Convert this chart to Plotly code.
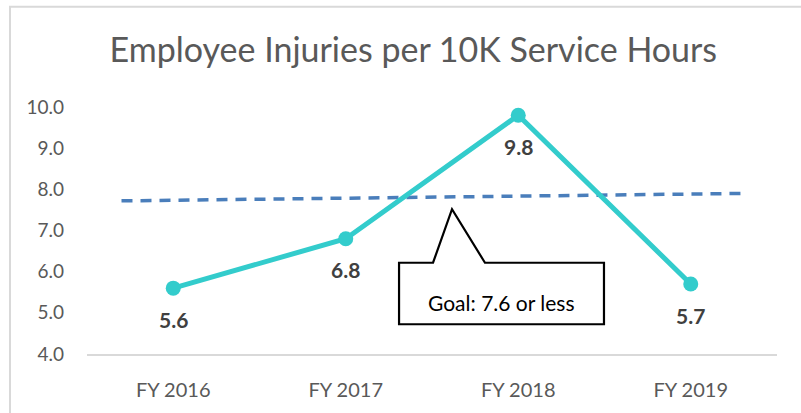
import plotly.graph_objects as go

categories = ["FY 2016", "FY 2017", "FY 2018", "FY 2019"]
injuries = [5.6, 6.8, 9.8, 5.7]
goal_x = [-0.3, 3.29]
goal_y = [7.72, 7.90]
y_ticks = [4, 5, 6, 7, 8, 9, 10]
goal_text = "Goal: 7.6 or less"

xpos = list(range(len(categories)))
FONT = "Lato, sans-serif"

fig = go.Figure()
fig.add_trace(go.Scatter(
    x=goal_x, y=goal_y, mode="lines",
    line=dict(color="#4A7EBB", width=3.5, dash="11px,8px"),
    hoverinfo="skip", showlegend=False))
fig.add_trace(go.Scatter(
    x=xpos, y=injuries, mode="lines+markers",
    line=dict(color="#33CCCC", width=5),
    marker=dict(color="#33CCCC", size=15),
    cliponaxis=False, showlegend=False))

# callout shape (data coordinates)
path = ("M 1.309 6.217 L 1.506 6.217 L 1.616 7.518 L 1.807 6.217 "
        "L 2.497 6.217 L 2.497 4.723 L 1.309 4.723 Z")
shapes = [
    dict(type="path", path=path, xref="x", yref="y",
         line=dict(color="black", width=2.2), fillcolor="white", layer="above"),
    dict(type="rect", xref="paper", yref="paper",
         x0=-0.1116, x1=1.3, y0=-0.6, y1=1.4056,
         line=dict(color="#D9D9D9", width=2), layer="below"),
]

annotations = [dict(text=goal_text, x=1.9, y=5.24, xref="x", yref="y",
                    showarrow=False,
                    font=dict(family=FONT, size=21, color="#000000"))]
for xi, v in zip(xpos, injuries):
    annotations.append(dict(text=f"<b>{v:.1f}</b>", x=xi, y=v, xref="x", yref="y",
                            showarrow=False, yshift=-31,
                            font=dict(family=FONT, size=21, color="#404040")))

fig.update_layout(
    width=801, height=413,
    margin=dict(l=87, r=24, t=107, b=57),
    paper_bgcolor="white", plot_bgcolor="white",
    title=dict(text="Employee Injuries per 10K Service Hours",
               x=0.516, xref="container", xanchor="center",
               y=0.879, yref="container", yanchor="middle",
               font=dict(family=FONT, size=34, color="#595959")),
    shapes=shapes,
    annotations=annotations,
    xaxis=dict(range=[-0.5, 3.5], tickmode="array", tickvals=xpos, ticktext=categories,
               showgrid=False, zeroline=False, showline=True, linecolor="#D9D9D9",
               linewidth=1.5, ticks="", ticklabelstandoff=17,
               tickfont=dict(family=FONT, size=20, color="#595959")),
    yaxis=dict(range=[4, 10], tickmode="array", tickvals=y_ticks, tickformat=".1f",
               showgrid=False, zeroline=False, showline=False, ticks="",
               ticklabelstandoff=22,
               tickfont=dict(family=FONT, size=19, color="#595959")),
)

fig.write_html("out.html", config={"displayModeBar": False},
               post_script="document.body.style.margin='0';")
